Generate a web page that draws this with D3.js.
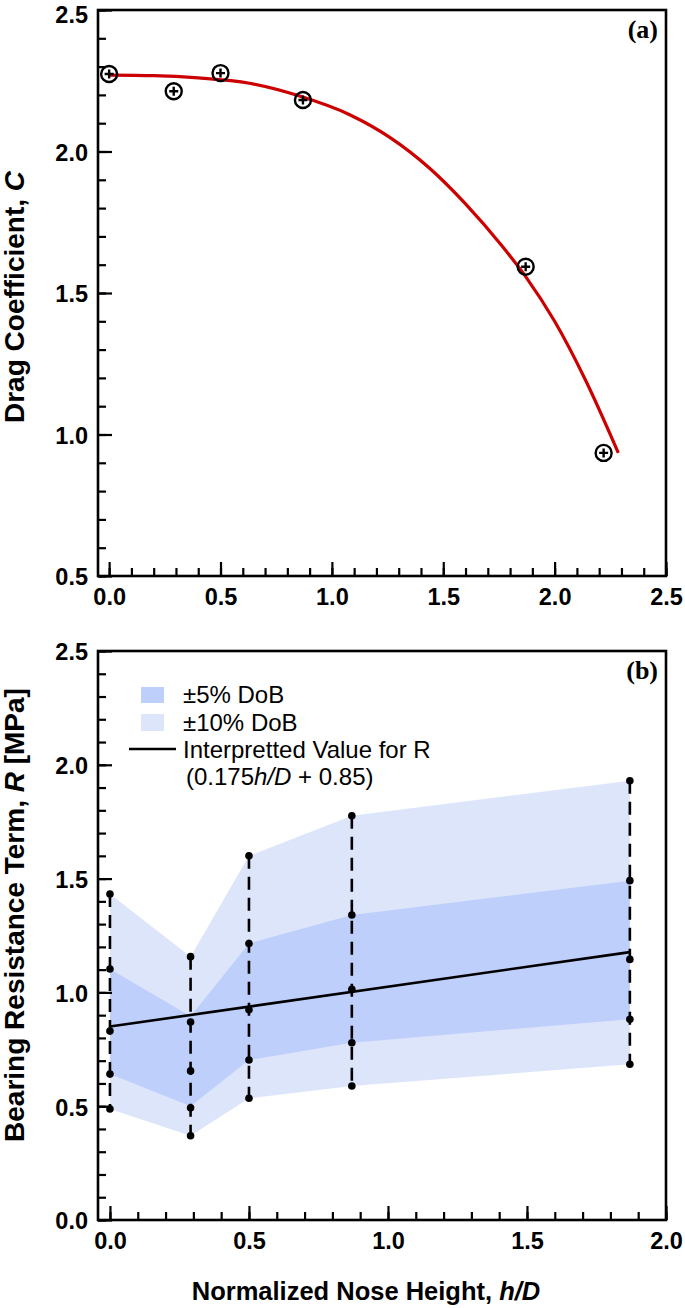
<!DOCTYPE html>
<html>
<head>
<meta charset="utf-8">
<script src="https://cdn.jsdelivr.net/npm/d3@7"></script>
<style>
  body { margin: 0; background: #fff; }
  .tick text { font-family: "Liberation Sans", Arial, sans-serif; font-weight: bold; font-size: 23.5px; fill: #000; }
  .title { font-family: "Liberation Sans", Arial, sans-serif; font-weight: bold; font-size: 25.5px; }
  .ytitle { font-family: "Liberation Sans", Arial, sans-serif; font-weight: bold; font-size: 28px; }
  .legend { font-family: "Liberation Sans", Arial, sans-serif; font-size: 24px; }
  .panel { font-family: "Liberation Serif", "Times New Roman", serif; font-weight: bold; font-size: 26px; }
</style>
</head>
<body>
<script>
// panel (a) measured points
const ptsX = [0.0, 0.29, 0.5, 0.87, 1.87, 2.22];
const ptsC = [2.274, 2.213, 2.277, 2.182, 1.593, 0.935];

// panel (a) fitted curve
const fitX = [0.0, 0.2, 0.4, 0.63, 0.855, 1.08, 1.26, 1.44, 1.6, 1.765, 1.87, 2.0, 2.14, 2.286];
const fitC = [2.27, 2.268, 2.26, 2.241, 2.196, 2.130, 2.050, 1.940, 1.815, 1.665, 1.558, 1.40, 1.19, 0.935];

// panel (b) columns
const hD = [0.0, 0.29, 0.5, 0.87, 1.87];
const r10Hi = [1.432, 1.157, 1.600, 1.776, 1.930];
const r5Hi = [1.103, 0.870, 1.215, 1.340, 1.491];
const rMid = [0.830, 0.655, 0.924, 1.014, 1.145];
const rMid2 = [0.641, 0.493, 0.703, 0.779, 0.882];
const r10Lo = [0.488, 0.370, 0.535, 0.589, 0.684];
// dark band edges (±5%)
const band5Hi = [1.103, 0.895, 1.215, 1.340, 1.491];
const band5Lo = [0.641, 0.500, 0.703, 0.779, 0.882];

// interpretted line endpoints
const lineX = [0.0, 1.87];
const lineR = [0.85, 1.177];

const ticksA_x = [0.0, 0.5, 1.0, 1.5, 2.0, 2.5];
const ticksA_y = [0.5, 1.0, 1.5, 2.0, 2.5];
const ticksB_x = [0.0, 0.5, 1.0, 1.5, 2.0];
const ticksB_y = [0.0, 0.5, 1.0, 1.5, 2.0, 2.5];

const W = 685, H = 1308;
const svg = d3.select("body").append("svg").attr("width", W).attr("height", H);

const left = 98, right = 666;
const fmt = d3.format(".1f");

function drawAxes(g, x, y, xTicks, yTicks, xMin, xMax, yMin, yMax, top, bottom) {
  // inward ticks on the bottom axis, minor every 0.1
  const xMinor = d3.range(xMin, xMax + 0.001, 0.1);
  g.append("g").attr("transform", "translate(0," + bottom + ")")
    .call(d3.axisTop(x).tickValues(xMinor).tickSize(8).tickFormat(""))
    .call(a => a.select(".domain").remove())
    .selectAll("line").attr("stroke-width", 2.2);
  g.append("g").attr("transform", "translate(0," + bottom + ")")
    .call(d3.axisTop(x).tickValues(xTicks).tickSize(14).tickFormat(""))
    .call(a => a.select(".domain").remove())
    .selectAll("line").attr("stroke-width", 2.2);
  g.append("g").attr("transform", "translate(0," + bottom + ")")
    .call(d3.axisBottom(x).tickValues(xTicks).tickSize(0).tickPadding(12).tickFormat(fmt))
    .call(a => a.select(".domain").remove());

  // inward ticks on the left axis
  const yMinor = d3.range(yMin, yMax + 0.001, 0.1);
  g.append("g").attr("transform", "translate(" + left + ",0)")
    .call(d3.axisRight(y).tickValues(yMinor).tickSize(8).tickFormat(""))
    .call(a => a.select(".domain").remove())
    .selectAll("line").attr("stroke-width", 2.2);
  g.append("g").attr("transform", "translate(" + left + ",0)")
    .call(d3.axisRight(y).tickValues(yTicks).tickSize(14).tickFormat(""))
    .call(a => a.select(".domain").remove())
    .selectAll("line").attr("stroke-width", 2.2);
  g.append("g").attr("transform", "translate(" + left + ",0)")
    .call(d3.axisLeft(y).tickValues(yTicks).tickSize(0).tickPadding(10).tickFormat(fmt))
    .call(a => a.select(".domain").remove())
    .selectAll("text").attr("dy", d => (y(d) < 20 ? "0.52em" : "0.38em"));

  g.append("rect")
    .attr("x", left).attr("y", top)
    .attr("width", right - left).attr("height", bottom - top)
    .attr("fill", "none").attr("stroke", "#000").attr("stroke-width", 2.6);
}

// ---------- panel (a) ----------
const topA = 10, botA = 576;
const xA = d3.scaleLinear().domain([-0.05, 2.5]).range([left, right]);
const yA = d3.scaleLinear().domain([0.5, 2.5]).range([botA, topA]);
const gA = svg.append("g");

const fitData = fitX.map((v, i) => ({ x: v, c: fitC[i] }));
gA.append("path")
  .datum(fitData)
  .attr("fill", "none")
  .attr("stroke", "#cc0000")
  .attr("stroke-width", 3.2)
  .attr("d", d3.line().x(d => xA(d.x)).y(d => yA(d.c)).curve(d3.curveMonotoneX));

const pts = gA.selectAll(".pt").data(ptsX.map((v, i) => ({ x: v, c: ptsC[i] })))
  .enter().append("g")
  .attr("transform", d => "translate(" + xA(d.x) + "," + yA(d.c) + ")");
pts.append("circle").attr("r", 8).attr("fill", "none").attr("stroke", "#000").attr("stroke-width", 2.4);
pts.append("path").attr("d", "M-4.5,0H4.5M0,-4.5V4.5").attr("stroke", "#000").attr("stroke-width", 2.4);

drawAxes(gA, xA, yA, ticksA_x, ticksA_y, 0, 2.5, 0.5, 2.5, topA, botA);

gA.append("text").attr("class", "panel").attr("x", 658).attr("y", 38).attr("text-anchor", "end").text("(a)");

const tA = gA.append("text").attr("class", "ytitle")
  .attr("transform", "translate(24,297) rotate(-90)")
  .attr("text-anchor", "middle");
tA.append("tspan").text("Drag Coefficient, ");
tA.append("tspan").attr("font-style", "italic").text("C");

// ---------- panel (b) ----------
const topB = 651, botB = 1220;
const xB = d3.scaleLinear().domain([-0.043, 2.0]).range([left, right]);
const yB = d3.scaleLinear().domain([0, 2.5]).range([botB, topB]);
const gB = svg.append("g");

const cols = hD.map((v, i) => ({ x: v, hi10: r10Hi[i], hi5: band5Hi[i], lo5: band5Lo[i], lo10: r10Lo[i],
  dots: [r10Hi[i], r5Hi[i], rMid[i], rMid2[i], r10Lo[i]] }));

gB.append("path").datum(cols)
  .attr("fill", "#dde5fb")
  .attr("d", d3.area().x(d => xB(d.x)).y0(d => yB(d.lo10)).y1(d => yB(d.hi10)));
gB.append("path").datum(cols)
  .attr("fill", "#bfcffb")
  .attr("d", d3.area().x(d => xB(d.x)).y0(d => yB(d.lo5)).y1(d => yB(d.hi5)));

gB.append("path")
  .datum(lineX.map((v, i) => ({ x: v, r: lineR[i] })))
  .attr("fill", "none").attr("stroke", "#000").attr("stroke-width", 2.6)
  .attr("d", d3.line().x(d => xB(d.x)).y(d => yB(d.r)));

gB.selectAll(".vd").data(cols).enter().append("line")
  .attr("x1", d => xB(d.x)).attr("x2", d => xB(d.x))
  .attr("y1", d => yB(d.hi10)).attr("y2", d => yB(d.lo10))
  .attr("stroke", "#000").attr("stroke-width", 2.6)
  .attr("stroke-dasharray", "13,8");

cols.forEach(c => {
  gB.selectAll(null).data(c.dots).enter().append("circle")
    .attr("cx", xB(c.x)).attr("cy", d => yB(d)).attr("r", 3.8).attr("fill", "#000");
});

drawAxes(gB, xB, yB, ticksB_x, ticksB_y, 0, 2.0, 0, 2.5, topB, botB);

gB.append("text").attr("class", "panel").attr("x", 658).attr("y", 679).attr("text-anchor", "end").text("(b)");

// legend
gB.append("rect").attr("x", 141).attr("y", 687).attr("width", 23).attr("height", 16).attr("fill", "#bfcffb");
gB.append("rect").attr("x", 141).attr("y", 714).attr("width", 23).attr("height", 17).attr("fill", "#dde5fb");
gB.append("line").attr("x1", 129).attr("x2", 176).attr("y1", 749).attr("y2", 749).attr("stroke", "#000").attr("stroke-width", 2.6);
gB.append("text").attr("class", "legend").attr("x", 183).attr("y", 703).text("±5% DoB");
gB.append("text").attr("class", "legend").attr("x", 183).attr("y", 731).text("±10% DoB");
gB.append("text").attr("class", "legend").attr("x", 183).attr("y", 758).text("Interpretted Value for R");
const lg = gB.append("text").attr("class", "legend").attr("x", 186).attr("y", 785);
lg.append("tspan").text("(0.175");
lg.append("tspan").attr("font-style", "italic").text("h/D");
lg.append("tspan").text(" + 0.85)");

const tB = gB.append("text").attr("class", "ytitle")
  .attr("transform", "translate(24,915) rotate(-90)")
  .attr("text-anchor", "middle");
tB.append("tspan").text("Bearing Resistance Term, ");
tB.append("tspan").attr("font-style", "italic").text("R");
tB.append("tspan").text(" [MPa]");

const tX = gB.append("text").attr("class", "title")
  .attr("x", 366).attr("y", 1300).attr("text-anchor", "middle");
tX.append("tspan").text("Normalized Nose Height, ");
tX.append("tspan").attr("font-style", "italic").text("h/D");
</script>
</body>
</html>
